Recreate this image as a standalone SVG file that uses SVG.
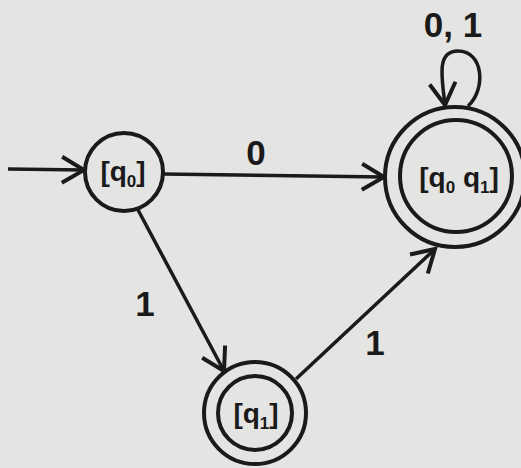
<svg xmlns="http://www.w3.org/2000/svg" width="521" height="468" viewBox="0 0 521 468">
<defs>
<marker id="ahb" viewBox="0 0 28 30" refX="25" refY="15" markerWidth="28" markerHeight="30" markerUnits="userSpaceOnUse" orient="auto">
<path d="M3,2 L25,15 L3,28" fill="none" stroke="#1a1a1a" stroke-width="4" stroke-linejoin="miter"/>
</marker>
</defs>
<style>
.st{fill:none;stroke:#1a1a1a;stroke-width:4}
.ed{fill:none;stroke:#1a1a1a;stroke-width:3.5}
.lb{font-family:"Liberation Sans",Arial,sans-serif;font-weight:bold;font-size:35px;fill:#1a1a1a;text-anchor:middle}
.nt{font-family:"Liberation Sans",Arial,sans-serif;font-weight:bold;font-size:28px;fill:#1a1a1a;text-anchor:middle}
.sb{font-size:17px}
</style>
<rect width="521" height="468" fill="#e4e4e2"/>
<g id="edges">
<line class="ed" x1="8" y1="169" x2="84" y2="170" marker-end="url(#ahb)"/>
<line class="ed" x1="163" y1="174" x2="384" y2="177" marker-end="url(#ahb)"/>
<line class="ed" x1="137" y1="208" x2="224" y2="371" marker-end="url(#ahb)"/>
<line class="ed" x1="296" y1="379" x2="435" y2="249" marker-end="url(#ahb)"/>
<path class="ed" d="M468,106 C486,90 484,51 458,51 C436,51 442,78 445,105" marker-end="url(#ahb)"/>
<text class="lb" x="256" y="165">0</text>
<text class="lb" x="145" y="316">1</text>
<text class="lb" x="375" y="355">1</text>
<text class="lb" x="453" y="37">0, 1</text>
</g>
<g id="q0">
<circle class="st" cx="124" cy="172" r="39"/>
<text class="nt" x="123" y="181">[q<tspan class="sb" dy="6">0</tspan><tspan dy="-6">]</tspan></text>
</g>
<g id="q0q1">
<circle class="st" cx="455" cy="177" r="70"/>
<circle class="st" cx="456" cy="176" r="56"/>
<text class="nt" x="459" y="187">[q<tspan class="sb" dy="6">0</tspan><tspan dy="-6"> q</tspan><tspan class="sb" dy="6">1</tspan><tspan dy="-6">]</tspan></text>
</g>
<g id="q1">
<circle class="st" cx="255" cy="413" r="51"/>
<circle class="st" cx="255" cy="413" r="37"/>
<text class="nt" x="256" y="423">[q<tspan class="sb" dy="6">1</tspan><tspan dy="-6">]</tspan></text>
</g>
</svg>
